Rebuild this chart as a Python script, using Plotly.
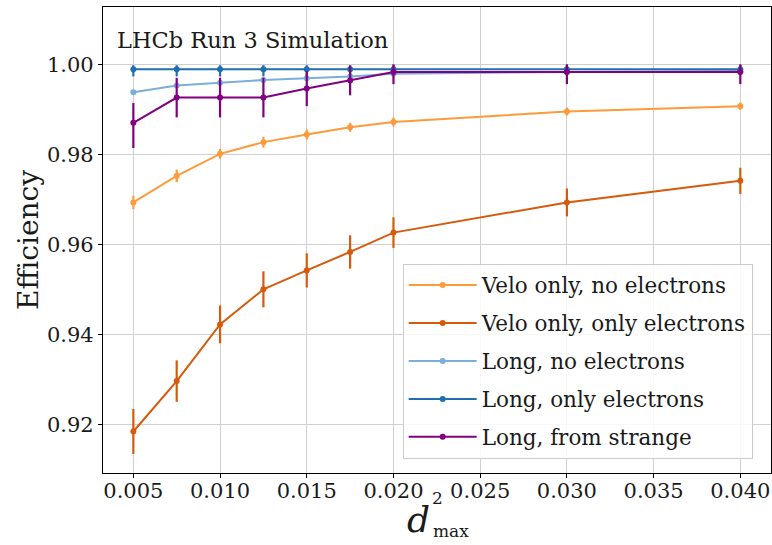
import plotly.graph_objects as go

# ---- data ----
d2max = [0.005, 0.0075, 0.010, 0.0125, 0.015, 0.0175, 0.020, 0.030, 0.040]

velo_no_e = [0.9693, 0.9752, 0.9801, 0.9827, 0.9844, 0.9860, 0.9872, 0.9895, 0.9907]
velo_no_e_err = [0.0015, 0.0014, 0.0011, 0.0012, 0.0011, 0.0010, 0.0010, 0.0009, 0.0008]

velo_e = [0.9184, 0.9296, 0.9422, 0.9500, 0.9542, 0.9583, 0.9626, 0.9693, 0.9741]
velo_e_err = [0.0050, 0.0046, 0.0042, 0.0040, 0.0038, 0.0037, 0.0034, 0.0031, 0.0029]

long_no_e = [0.9938, 0.9953, 0.9959, 0.9965, 0.9969, 0.9973, 0.9979, 0.9983, 0.9985]
long_no_e_err = [0.0003, 0.0003, 0.0003, 0.0003, 0.0003, 0.0003, 0.0003, 0.0003, 0.0003]

long_e = [0.9989, 0.9989, 0.9989, 0.9989, 0.9989, 0.9989, 0.9989, 0.9989, 0.9989]
long_e_err_up = [0.0009, 0.0009, 0.0009, 0.0009, 0.0009, 0.0009, 0.0009, 0.0009, 0.0009]
long_e_err_dn = [0.0016, 0.0016, 0.0016, 0.0016, 0.0016, 0.0016, 0.0010, 0.0010, 0.0010]

long_strange = [0.9870, 0.9926, 0.9926, 0.9926, 0.9946, 0.9964, 0.9983, 0.9983, 0.9983]
long_strange_err_up = [0.0044, 0.0044, 0.0044, 0.0044, 0.0039, 0.0033, 0.0017, 0.0017, 0.0017]
long_strange_err_dn = [0.0056, 0.0044, 0.0044, 0.0044, 0.0039, 0.0033, 0.0027, 0.0027, 0.0027]

series_names = ["Velo only, no electrons", "Velo only, only electrons",
                "Long, no electrons", "Long, only electrons", "Long, from strange"]
colors = ["#fd9b3b", "#d65a0c", "#7bafd9", "#1f6fb0", "#800080"]

FONT = "DejaVu Serif"
TXT = "#1a1a1a"

fig = go.Figure()

series = [
    (velo_no_e, velo_no_e_err, velo_no_e_err),
    (velo_e, velo_e_err, velo_e_err),
    (long_no_e, long_no_e_err, long_no_e_err),
    (long_e, long_e_err_up, long_e_err_dn),
    (long_strange, long_strange_err_up, long_strange_err_dn),
]

for i, ((y, eu, ed), name, c) in enumerate(zip(series, series_names, colors)):
    fig.add_trace(go.Scatter(
        x=d2max, y=y, name=name, mode="lines+markers",
        line=dict(color=c, width=2),
        marker=dict(color=c, size=6),
        error_y=dict(type="data", symmetric=False, array=eu, arrayminus=ed,
                     color=c, thickness=2.2, width=0),
        legendgroup="g%d" % i,
    ))

fig.update_layout(
    width=772, height=545,
    margin=dict(l=103, r=1, t=7, b=72),
    plot_bgcolor="white", paper_bgcolor="white",
    font=dict(family=FONT, color=TXT, size=21.5),
    showlegend=True,
    legend=dict(
        x=0.4486, y=0.031, xanchor="left", yanchor="bottom",
        bgcolor="rgba(255,255,255,0.85)", bordercolor="#cccccc", borderwidth=1,
        font=dict(family=FONT, size=21.5, color=TXT),
        tracegroupgap=7, itemwidth=68,
    ),
)

fig.update_xaxes(
    range=[0.00325, 0.04177],
    tickmode="linear", tick0=0.005, dtick=0.005, tickformat=".3f",
    showgrid=True, gridcolor="#d0d0d0", gridwidth=1,
    showline=True, linecolor="black", linewidth=1.3, mirror=True,
    ticks="outside", ticklen=4, tickcolor="black",
    tickfont=dict(family=FONT, size=21, color=TXT),
    ticklabelstandoff=-5,
    zeroline=False,
)
fig.update_yaxes(
    range=[0.90918, 1.01273],
    tickmode="linear", tick0=0.92, dtick=0.02, tickformat=".2f",
    showgrid=True, gridcolor="#d0d0d0", gridwidth=1,
    showline=True, linecolor="black", linewidth=1.3, mirror=True,
    ticks="outside", ticklen=4, tickcolor="black",
    tickfont=dict(family=FONT, size=21, color=TXT),
    title=dict(text="Efficiency", font=dict(family=FONT, size=28, color=TXT), standoff=0),
    zeroline=False,
)

# x-axis title d^2_max built from stacked pieces
fig.add_annotation(text="<i>d</i>", xref="paper", yref="paper",
                   x=0.473, y=-0.1, xanchor="center", yanchor="middle",
                   showarrow=False, font=dict(family=FONT, size=36, color=TXT))
fig.add_annotation(text="2", xref="paper", yref="paper",
                   x=0.489, y=-0.054, xanchor="left", yanchor="middle",
                   showarrow=False, font=dict(family=FONT, size=17, color=TXT))
fig.add_annotation(text="max", xref="paper", yref="paper",
                   x=0.4905, y=-0.125, xanchor="left", yanchor="middle",
                   showarrow=False, font=dict(family=FONT, size=17, color=TXT))

fig.add_annotation(text="LHCb Run 3 Simulation", xref="paper", yref="paper",
                   x=0.0175, y=0.9285, xanchor="left", yanchor="middle",
                   showarrow=False, font=dict(family=FONT, size=22.5, color=TXT))

fig.write_html("out.html")
